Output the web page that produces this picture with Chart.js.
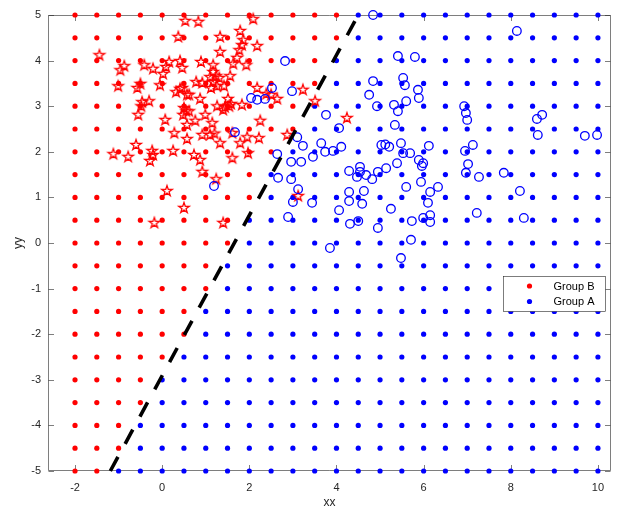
<!DOCTYPE html>
<html>
<head>
<meta charset="utf-8">
<script src="https://cdn.jsdelivr.net/npm/chart.js@4.4.0/dist/chart.umd.min.js"></script>
<style>
  html, body { margin: 0; padding: 0; background: #ffffff; }
  #wrap { width: 618px; height: 510px; }
</style>
</head>
<body>
<div id="wrap"><canvas id="c" width="618" height="510"></canvas></div>
<script>
// Evaluation grid
const gridX = [-2, -1.5, -1, -0.5, 0, 0.5, 1, 1.5, 2, 2.5, 3, 3.5, 4, 4.5, 5, 5.5, 6, 6.5, 7, 7.5, 8, 8.5, 9, 9.5, 10];
const gridY = [-5, -4.5, -4, -3.5, -3, -2.5, -2, -1.5, -1, -0.5, 0, 0.5, 1, 1.5, 2, 2.5, 3, 3.5, 4, 4.5, 5];
// Right-most grid x assigned to Group B in each row of gridY
const groupBEdge = [-1.5, -1, -1, -0.5, -0.5, 0, 0.5, 0.5, 1, 1, 1.5, 1.5, 2, 2, 2.5, 3, 3, 3.5, 3.5, 4, 4];

// Training samples, group B (stars)
const bX = [0.53, 0.37, -1.44, -0.87, -0.96, -0.41, -0.21, 0.02, 0.09, 0.16, 0.41, 0.46, -1.01, -0.57, -0.50, -0.05, 0.32, 0.41, 0.57, -0.46, -0.30, -0.48, -0.55, 0.07, 0.50, 0.55, 0.48, 0.57,
  0.83, 2.09, 1.79, 1.33, 1.86, 1.83, 2.18, 1.77, 1.33, 1.72, 0.89, 1.17, 1.63, 1.93, 1.17, 1.56, 1.10, 1.24, 1.31, 0.78, 0.92, 1.17, 1.12, 1.26, 1.42, 0.46, 0.62, 0.87, 2.18, 2.39, 2.50, 2.64, 1.51, 1.54, 1.58, 1.44, 1.26, 1.83, 0.62, 0.99, 0.76, 1.15, 2.25, 1.40,
  0.28, 0.57, -0.60, -1.12, -0.78, -0.23, -0.21, -0.28, 0.25, 0.11, 0.50, -0.18,
  0.92, 1.10, 1.20, 1.33, 1.61, 1.79, 1.95, 2.22, 2.87, 0.73, 0.87, 1.61, 1.97, 0.92, 1.24, 1.40, 3.23, 3.51, 4.24, 3.12];
const bY = [4.87, 4.52, 4.12, 3.88, 3.79, 3.90, 3.82, 3.71, 3.86, 3.97, 3.99, 3.84, 3.44, 3.40, 3.49, 3.46, 3.31, 3.38, 3.25, 3.09, 3.11, 3.00, 2.81, 2.70, 2.96, 2.89, 2.81, 2.59,
  4.85, 4.91, 4.65, 4.52, 4.45, 4.34, 4.32, 4.23, 4.19, 4.06, 3.97, 3.90, 3.93, 3.90, 3.75, 3.66, 3.64, 3.66, 3.62, 3.53, 3.51, 3.53, 3.40, 3.44, 3.44, 3.40, 3.25, 3.16, 3.40, 3.27, 3.25, 3.16, 3.16, 3.00, 3.05, 2.98, 3.00, 3.03, 2.89, 2.81, 2.68, 2.63, 2.68, 2.92,
  2.41, 2.28, 2.15, 1.95, 1.89, 2.02, 1.93, 1.80, 2.02, 1.14, 0.77, 0.44,
  2.37, 2.37, 2.40, 2.19, 2.41, 2.19, 2.32, 2.30, 2.37, 1.93, 1.82, 1.86, 1.97, 1.56, 1.40, 0.44, 3.36, 3.11, 2.74, 1.03];

// Training samples, group A (circles)
const aX = [4.84, 2.82, 4.84, 4.75, 4.93, 2.98, 3.76, 4.06, 2.52, 3.10, 5.41, 5.80, 5.53, 5.57, 5.87, 5.89, 5.60, 5.32, 5.41, 5.34, 6.93, 6.97, 7.00, 8.14, 8.72, 8.60, 8.62, 9.70, 9.98,
  3.23, 3.65, 3.74, 3.92, 4.11, 3.46, 2.64, 2.96, 3.19, 2.66, 2.96, 3.12, 3.00, 3.44, 2.89, 4.06, 4.29, 4.54, 4.47, 4.68, 4.82, 4.95, 5.14, 4.54, 4.29, 4.63, 4.29, 4.59, 4.31, 4.50, 4.95, 3.85,
  5.03, 5.12, 5.21, 5.48, 5.53, 5.69, 6.12, 5.39, 5.89, 5.99, 5.96, 6.95, 7.13, 7.02, 6.97, 7.27, 5.94, 5.60, 6.15, 6.33, 6.10, 5.25, 5.73, 5.99, 6.15, 6.15, 7.22, 5.71, 5.48, 7.84, 8.21, 8.30,
  1.67, 1.19, 2.04, 2.18, 2.36];
const aY = [5.00, 3.99, 3.55, 3.25, 3.00, 3.33, 2.81, 2.52, 3.40, 2.32, 4.10, 4.08, 3.62, 3.46, 3.36, 3.18, 3.11, 3.03, 2.89, 2.59, 3.00, 2.85, 2.70, 4.65, 2.81, 2.72, 2.37, 2.35, 2.37,
  2.13, 2.19, 2.00, 2.02, 2.11, 1.89, 1.95, 1.78, 1.78, 1.43, 1.40, 1.18, 0.90, 0.88, 0.57, 0.72, 1.58, 1.67, 1.45, 1.49, 1.40, 1.56, 1.64, 1.56, 1.12, 1.14, 0.92, 0.86, 0.42, 0.48, 0.33, -0.11,
  2.15, 2.16, 2.11, 2.19, 1.97, 1.97, 2.13, 1.75, 1.82, 1.75, 1.69, 2.02, 2.15, 1.73, 1.54, 1.45, 1.34, 1.23, 1.12, 1.23, 0.88, 0.75, 0.48, 0.55, 0.61, 0.46, 0.66, 0.07, -0.33, 1.54, 1.14, 0.55,
  2.43, 1.25, 3.18, 3.14, 3.16];

// Decision boundary end points
const edgeX = [-1.19, 4.50];
const edgeY = [-5, 5];

// Axis ticks
const xTicks = [-2, 0, 2, 4, 6, 8, 10];
const yTicks = [-5, -4, -3, -2, -1, 0, 1, 2, 3, 4, 5];

const RED = '#ff0000';
const BLUE = '#0000ff';
const AXIS = '#262626';

// Split the grid into the two predicted groups
const gridB = [], gridA = [];
gridY.forEach((gy, r) => {
  gridX.forEach(gx => {
    (gx <= groupBEdge[r] ? gridB : gridA).push({ x: gx, y: gy });
  });
});
const toPts = (xs, ys) => xs.map((v, i) => ({ x: v, y: ys[i] }));

// Outlined five-point star marker
function makeStar(color, R, lw) {
  const s = Math.ceil(2 * R + 2 * lw + 2);
  const cv = document.createElement('canvas');
  cv.width = s; cv.height = s;
  const g = cv.getContext('2d');
  const c = s / 2, r = R * 0.382;
  g.beginPath();
  for (let k = 0; k < 10; k++) {
    const ang = -Math.PI / 2 + k * Math.PI / 5;
    const rr = k % 2 ? r : R;
    g.lineTo(c + rr * Math.cos(ang), c + rr * Math.sin(ang));
  }
  g.closePath();
  g.strokeStyle = color;
  g.lineWidth = lw;
  g.lineJoin = 'miter';
  g.stroke();
  return cv;
}
const starMarker = makeStar(RED, 5.6, 1.25);

// Box, inward ticks
const axesBox = {
  id: 'axesBox',
  beforeDatasetsDraw(chart) {
    const { ctx, chartArea: a, scales: { x, y } } = chart;
    const L = Math.round(a.left) + 0.5, R = Math.round(a.right) - 0.5;
    const T = Math.round(a.top) + 0.5, B = Math.round(a.bottom) - 0.5;
    const tl = 5.5;
    ctx.save();
    ctx.strokeStyle = AXIS;
    ctx.lineWidth = 0.6;
    ctx.beginPath();
    ctx.moveTo(L, T); ctx.lineTo(R, T); ctx.lineTo(R, B); ctx.lineTo(L, B); ctx.closePath();
    xTicks.forEach(v => {
      const px = Math.round(x.getPixelForValue(v)) + 0.5;
      ctx.moveTo(px, B); ctx.lineTo(px, B - tl);
      ctx.moveTo(px, T); ctx.lineTo(px, T + tl);
    });
    yTicks.forEach(v => {
      const py = Math.round(y.getPixelForValue(v)) + 0.5;
      ctx.moveTo(L, py); ctx.lineTo(L + tl, py);
      ctx.moveTo(R, py); ctx.lineTo(R - tl, py);
    });
    ctx.stroke();
    ctx.restore();
  }
};

// Legend box inside the axes
const boxLegend = {
  id: 'boxLegend',
  afterDraw(chart) {
    const { ctx } = chart;
    const items = chart.data.datasets.filter(d => d.inLegend);
    const x0 = 503.5, y0 = 276.5, w = 102, h = 35;
    ctx.save();
    ctx.fillStyle = '#ffffff';
    ctx.fillRect(x0, y0, w, h);
    ctx.strokeStyle = AXIS;
    ctx.lineWidth = 0.6;
    ctx.strokeRect(x0, y0, w, h);
    ctx.font = '11px "Liberation Sans", Arial, sans-serif';
    ctx.textBaseline = 'middle';
    ctx.textAlign = 'left';
    items.forEach((d, i) => {
      const cy = y0 + 9.5 + i * 15.5;
      ctx.fillStyle = d.backgroundColor;
      ctx.beginPath();
      ctx.arc(x0 + 26, cy, 2.6, 0, Math.PI * 2);
      ctx.fill();
      ctx.fillStyle = '#000000';
      ctx.fillText(d.label, x0 + 50, cy + 0.5);
    });
    ctx.restore();
  }
};

new Chart(document.getElementById('c'), {
  type: 'scatter',
  data: {
    datasets: [
      { label: 'boundary', type: 'line', data: toPts(edgeX, edgeY), borderColor: '#000000', borderWidth: 3.6,
        borderDash: [16, 15], pointRadius: 0, fill: false, order: 0, clip: false },
      { label: 'A', data: toPts(aX, aY), pointStyle: 'circle', pointRadius: 4.3, borderColor: BLUE, borderWidth: 1.3,
        backgroundColor: 'rgba(0,0,0,0)', order: 1, clip: false },
      { label: 'B', data: toPts(bX, bY), pointStyle: starMarker, borderColor: RED, backgroundColor: RED, order: 2, clip: false },
      { label: 'Group B', inLegend: true, data: gridB, pointRadius: 2.6, borderWidth: 0, backgroundColor: RED, order: 3, clip: false },
      { label: 'Group A', inLegend: true, data: gridA, pointRadius: 2.6, borderWidth: 0, backgroundColor: BLUE, order: 4, clip: false }
    ]
  },
  options: {
    responsive: false,
    animation: false,
    devicePixelRatio: 1,
    layout: { autoPadding: false, padding: { left: 0, right: 7, top: 15, bottom: 0 } },
    plugins: { legend: { display: false }, tooltip: { enabled: false } },
    elements: { point: { hoverRadius: 0 } },
    scales: {
      x: {
        type: 'linear', min: -2.62, max: 10.3,
        afterFit(s) { s.height = 39; },
        afterBuildTicks(s) { s.ticks = xTicks.map(v => ({ value: v })); },
        grid: { display: false, drawTicks: false },
        border: { display: false },
        ticks: { padding: 10, color: AXIS, font: { family: '"Liberation Sans", Arial, sans-serif', size: 11 } },
        title: { display: true, text: 'xx', color: AXIS, padding: 0, font: { family: '"Liberation Sans", Arial, sans-serif', size: 12 } }
      },
      y: {
        type: 'linear', min: -5, max: 5,
        afterFit(s) { s.width = 48; },
        afterBuildTicks(s) { s.ticks = yTicks.map(v => ({ value: v })); },
        grid: { display: false, drawTicks: false },
        border: { display: false },
        ticks: { padding: 7, color: AXIS, font: { family: '"Liberation Sans", Arial, sans-serif', size: 11 } },
        title: { display: true, text: 'yy', color: AXIS, padding: { top: 11, bottom: 11 }, font: { family: '"Liberation Sans", Arial, sans-serif', size: 12 } }
      }
    }
  },
  plugins: [axesBox, boxLegend]
});
</script>
</body>
</html>
